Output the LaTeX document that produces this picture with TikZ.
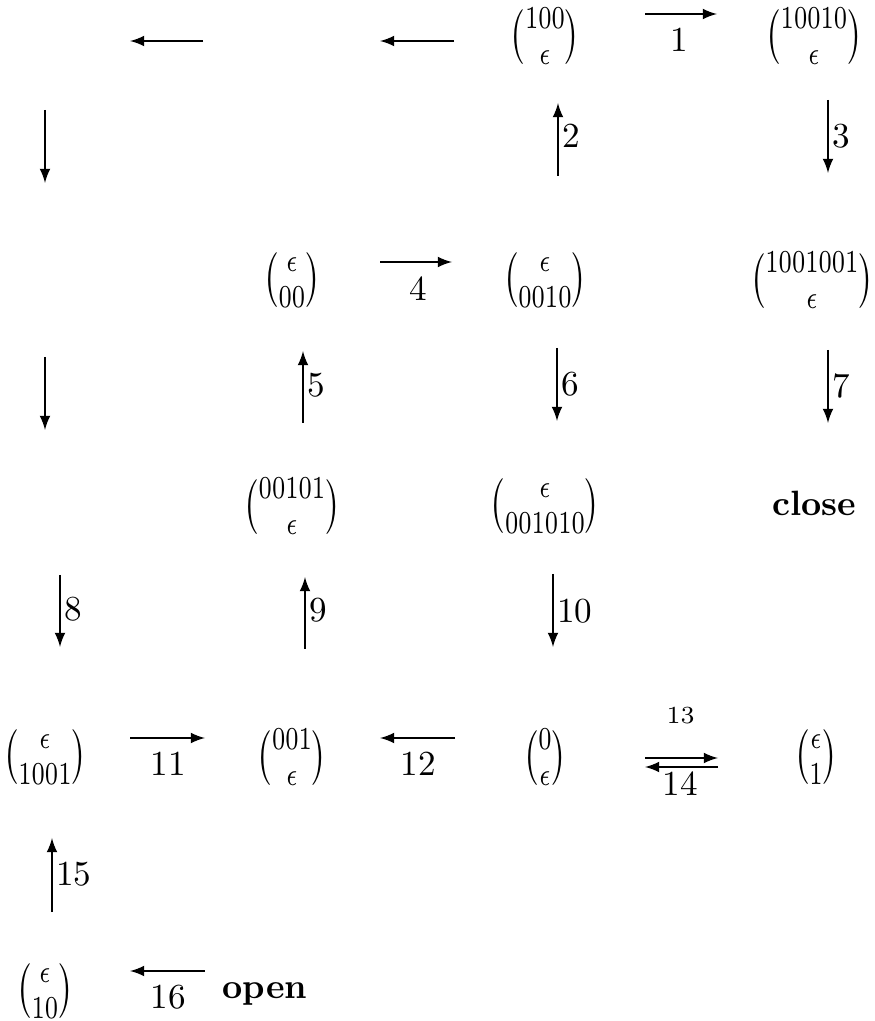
\documentclass[tikz,border=0pt]{standalone}
\usepackage{amsmath}
\usepackage{amssymb}
\usepackage{graphicx}
\newcommand{\bn}[2]{\scalebox{0.95}[1.3]{$\binom{#1}{#2}$}}
\usetikzlibrary{arrows}

\begin{document}
\begin{tikzpicture}[>=latex, every node/.style={inner sep=1pt}]
    \useasboundingbox (0,0) rectangle (8.75,10.21);

    \coordinate (V0) at (0.45,9.85);
    \coordinate (V1) at (2.92,9.85);
    \node (U100) at (5.45,9.85) {\bn{100}{\epsilon}};
    \node (U10010) at (8.14,9.85) {\bn{10010}{\epsilon}};

    \coordinate (V2) at (0.45,7.41);
    \node (L00) at (2.92,7.41) {\bn{\epsilon}{00}};
    \node (L0010) at (5.45,7.41) {\bn{\epsilon}{0010}};
    \node (U1001001) at (8.12,7.41) {\bn{1001001}{\epsilon}};

    \coordinate (V3) at (0.45,5.15);
    \node (U00101) at (2.92,5.15) {\bn{00101}{\epsilon}};
    \node (L001010) at (5.45,5.15) {\bn{\epsilon}{001010}};
    \node (CL) at (8.14,5.18) {\textbf{close}};

    \node (L1001) at (0.45,2.64) {\bn{\epsilon}{1001}};
    \node (U001) at (2.92,2.64) {\bn{001}{\epsilon}};
    \node (U0) at (5.45,2.64) {\bn{0}{\epsilon}};
    \node (L1) at (8.16,2.64) {\bn{\epsilon}{1}};

    \node (L10) at (0.45,0.30) {\bn{\epsilon}{10}};
    \node (OP) at (2.65,0.27) {\textbf{open}};

    \draw[->, shorten <=1cm, shorten >=0.97cm] ([yshift=2.2mm]U100.center) --
    node[below=1mm] {1} ([yshift=2.2mm]U10010.center);
    \draw[->, shorten <=0.91cm, shorten >=0.88cm] ([yshift=-0.5mm]U100.center) -- ([yshift=-0.5mm]V1);
    \draw[->, shorten <=0.89cm, shorten >=0.85cm] ([yshift=-0.5mm]V1) -- ([yshift=-0.5mm]V0);

    \draw[->, shorten <=0.74cm, shorten >=0.97cm] (V0) -- (V2);
    \draw[->, shorten <=0.77cm, shorten >=0.76cm] (V2) -- (V3);
    \draw[->, shorten <=0.69cm, shorten >=1.1cm] ([xshift=1.5mm]V3) --
    node[right, pos=0.41] {8} ([xshift=1.5mm]L1001.center);

    \draw[->, shorten <=1.04cm, shorten >=0.67cm] ([xshift=1.3mm]L0010.center) --
    node[right, pos=0.59] {2} ([xshift=1.3mm]U100.center);
    \draw[->, shorten <=0.64cm, shorten >=1.07cm] ([xshift=1.4mm]U10010.center) --
    node[right, pos=0.41] {3} ([xshift=1.4mm]U10010.center |- U1001001.center);
    \draw[->, shorten <=0.88cm, shorten >=0.93cm] ([yshift=1.8mm]L00.center) --
    node[below=1mm] {4} ([yshift=1.8mm]L0010.center);

    \draw[->, shorten <=0.83cm, shorten >=0.71cm] ([xshift=1.1mm]U00101.center) --
    node[right, pos=0.535] {5} ([xshift=1.1mm]L00.center);
    \draw[->, shorten <=0.68cm, shorten >=0.85cm] ([xshift=1.2mm]L0010.center) --
    node[right, pos=0.46] {6} ([xshift=1.2mm]L001010.center);
    \draw[->, shorten <=0.70cm, shorten >=0.80cm] ([xshift=1.4mm]CL.center |- U1001001.center) --
    node[right, pos=0.475] {7} ([xshift=1.4mm]CL.center);

    \draw[->, shorten <=1.08cm, shorten >=0.71cm] ([xshift=1.3mm]U001.center) --
    node[right, pos=0.585] {9} ([xshift=1.3mm]U00101.center);
    \draw[->, shorten <=0.68cm, shorten >=1.10cm] ([xshift=0.8mm]L001010.center) --
    node[right, pos=0.42] {10} ([xshift=0.8mm]U0.center);

    \draw[->, shorten <=0.85cm, shorten >=0.87cm] ([yshift=1.9mm]L1001.center) --
    node[below=1mm] {11} ([yshift=1.9mm]U001.center);
    \draw[->, shorten <=0.90cm, shorten >=0.88cm] ([yshift=1.9mm]U0.center) --
    node[below=1mm] {12} ([yshift=1.9mm]U001.center);
    \draw[->, shorten <=1cm, shorten >=0.98cm] ([yshift=-0.1mm]U0.center) --
    node[above=3mm, font=\scriptsize] {13} ([yshift=-0.1mm]L1.center);
    \draw[->, shorten <=0.98cm, shorten >=1cm] ([yshift=-1mm]L1.center) --
    node[below] {14} ([yshift=-1mm]U0.center);

    \draw[->, shorten <=0.79cm, shorten >=0.81cm] ([xshift=0.7mm]L10.center) --
    node[right] {15} ([xshift=0.7mm]L1001.center);
    \draw[->, shorten <=0.60cm, shorten >=0.85cm] ([yshift=2.3mm]OP.center) --
    node[below=1mm, pos=0.44] {16} ([yshift=2.3mm]OP.center -| L10.center);
\end{tikzpicture}
\end{document}
